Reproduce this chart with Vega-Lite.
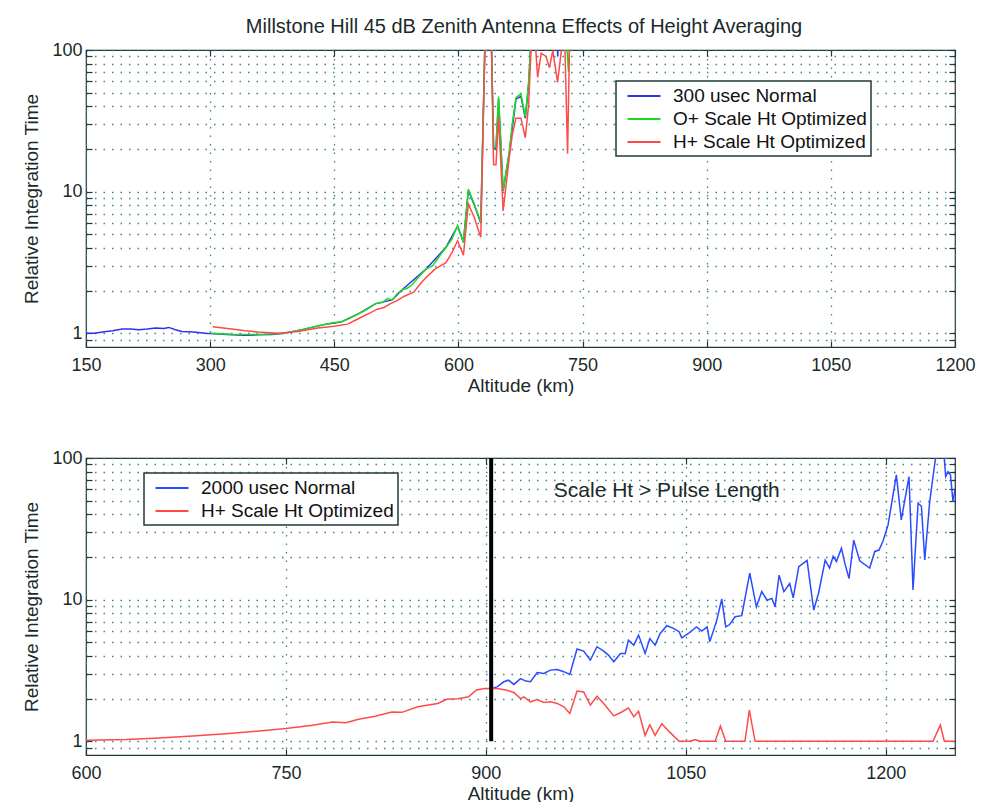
{
  "$schema": "https://vega.github.io/schema/vega-lite/v6.json",
  "background": "white",
  "padding": {"left": 22, "top": 17, "right": 10, "bottom": 0},
  "title": {"text": "Millstone Hill 45 dB Zenith Antenna  Effects of Height Averaging", "fontSize": 20, "fontWeight": "normal", "color": "#1a2a2a", "offset": 3, "anchor": "middle", "dx": 25},
  "config": {
    "font": "Liberation Sans",
    "view": {"stroke": "#203838", "strokeWidth": 1.2},
    "axis": {"labelFontSize": 18, "labelColor": "#1a2a2a", "titleFontSize": 19, "titleFontWeight": "normal", "titleColor": "#1a2a2a", "domain": false, "grid": true, "gridColor": "#3f8585", "gridDash": [1.5, 7], "gridWidth": 1.3, "tickColor": "#203838", "tickSize": -6, "tickWidth": 1.2, "labelPadding": 10},
    "axisX": {"labelPadding": 15, "titlePadding": 2, "format": "d", "labelFlush": false},
    "axisY": {"labelFlush": false},
    "legend": {"title": null, "orient": "none", "fillColor": "white", "strokeColor": "#1f3a3a", "strokeWidth": 1.5, "padding": 4, "labelFontSize": 19, "labelColor": "#111", "labelLimit": 400, "symbolType": "M-1.65,0H1.65", "symbolSize": 400, "symbolStrokeWidth": 2, "rowPadding": 2, "labelOffset": 18, "symbolOffset": 13}
  },
  "datasets": {
    "top": [
      {"alt":150,"val":1.0,"series":"300 usec Normal"},
      {"alt":160,"val":1.0,"series":"300 usec Normal"},
      {"alt":170,"val":1.02,"series":"300 usec Normal"},
      {"alt":182,"val":1.04,"series":"300 usec Normal"},
      {"alt":194,"val":1.07,"series":"300 usec Normal"},
      {"alt":204,"val":1.07,"series":"300 usec Normal"},
      {"alt":214,"val":1.06,"series":"300 usec Normal"},
      {"alt":224,"val":1.07,"series":"300 usec Normal"},
      {"alt":234,"val":1.09,"series":"300 usec Normal"},
      {"alt":244,"val":1.08,"series":"300 usec Normal"},
      {"alt":250,"val":1.1,"series":"300 usec Normal"},
      {"alt":258,"val":1.06,"series":"300 usec Normal"},
      {"alt":266,"val":1.03,"series":"300 usec Normal"},
      {"alt":280,"val":1.02,"series":"300 usec Normal"},
      {"alt":294,"val":1.0,"series":"300 usec Normal"},
      {"alt":310,"val":0.99,"series":"300 usec Normal"},
      {"alt":326,"val":0.975,"series":"300 usec Normal"},
      {"alt":342,"val":0.97,"series":"300 usec Normal"},
      {"alt":358,"val":0.975,"series":"300 usec Normal"},
      {"alt":374,"val":0.98,"series":"300 usec Normal"},
      {"alt":390,"val":1.0,"series":"300 usec Normal"},
      {"alt":414,"val":1.07,"series":"300 usec Normal"},
      {"alt":440,"val":1.16,"series":"300 usec Normal"},
      {"alt":458,"val":1.2,"series":"300 usec Normal"},
      {"alt":480,"val":1.38,"series":"300 usec Normal"},
      {"alt":500,"val":1.62,"series":"300 usec Normal"},
      {"alt":520,"val":1.72,"series":"300 usec Normal"},
      {"alt":532,"val":2.03,"series":"300 usec Normal"},
      {"alt":561,"val":2.84,"series":"300 usec Normal"},
      {"alt":585,"val":4.05,"series":"300 usec Normal"},
      {"alt":599,"val":5.7,"series":"300 usec Normal"},
      {"alt":606,"val":4.4,"series":"300 usec Normal"},
      {"alt":612,"val":10.2,"series":"300 usec Normal"},
      {"alt":619,"val":8.1,"series":"300 usec Normal"},
      {"alt":627,"val":6.0,"series":"300 usec Normal"},
      {"alt":633,"val":200,"series":"300 usec Normal"},
      {"alt":639,"val":200,"series":"300 usec Normal"},
      {"alt":642.5,"val":20.2,"series":"300 usec Normal"},
      {"alt":645.4,"val":20.2,"series":"300 usec Normal"},
      {"alt":648.5,"val":45,"series":"300 usec Normal"},
      {"alt":654,"val":10.1,"series":"300 usec Normal"},
      {"alt":661.5,"val":19,"series":"300 usec Normal"},
      {"alt":669.5,"val":45,"series":"300 usec Normal"},
      {"alt":675.5,"val":47,"series":"300 usec Normal"},
      {"alt":680.8,"val":33,"series":"300 usec Normal"},
      {"alt":684.8,"val":57,"series":"300 usec Normal"},
      {"alt":690,"val":200,"series":"300 usec Normal"},
      {"alt":718,"val":200,"series":"300 usec Normal"},
      {"alt":720,"val":90,"series":"300 usec Normal"},
      {"alt":722,"val":200,"series":"300 usec Normal"},

      {"alt":301,"val":1.0,"series":"O+ Scale Ht Optimized"},
      {"alt":326,"val":0.985,"series":"O+ Scale Ht Optimized"},
      {"alt":358,"val":0.98,"series":"O+ Scale Ht Optimized"},
      {"alt":390,"val":1.0,"series":"O+ Scale Ht Optimized"},
      {"alt":414,"val":1.07,"series":"O+ Scale Ht Optimized"},
      {"alt":428,"val":1.12,"series":"O+ Scale Ht Optimized"},
      {"alt":440,"val":1.16,"series":"O+ Scale Ht Optimized"},
      {"alt":450,"val":1.19,"series":"O+ Scale Ht Optimized"},
      {"alt":458,"val":1.2,"series":"O+ Scale Ht Optimized"},
      {"alt":468,"val":1.27,"series":"O+ Scale Ht Optimized"},
      {"alt":480,"val":1.38,"series":"O+ Scale Ht Optimized"},
      {"alt":490,"val":1.48,"series":"O+ Scale Ht Optimized"},
      {"alt":500,"val":1.62,"series":"O+ Scale Ht Optimized"},
      {"alt":508,"val":1.65,"series":"O+ Scale Ht Optimized"},
      {"alt":514,"val":1.76,"series":"O+ Scale Ht Optimized"},
      {"alt":520,"val":1.72,"series":"O+ Scale Ht Optimized"},
      {"alt":526,"val":1.9,"series":"O+ Scale Ht Optimized"},
      {"alt":532,"val":2.03,"series":"O+ Scale Ht Optimized"},
      {"alt":538,"val":2.08,"series":"O+ Scale Ht Optimized"},
      {"alt":544,"val":2.2,"series":"O+ Scale Ht Optimized"},
      {"alt":552,"val":2.5,"series":"O+ Scale Ht Optimized"},
      {"alt":561,"val":2.84,"series":"O+ Scale Ht Optimized"},
      {"alt":569,"val":3.0,"series":"O+ Scale Ht Optimized"},
      {"alt":577,"val":3.5,"series":"O+ Scale Ht Optimized"},
      {"alt":585,"val":4.05,"series":"O+ Scale Ht Optimized"},
      {"alt":592,"val":4.6,"series":"O+ Scale Ht Optimized"},
      {"alt":599,"val":5.75,"series":"O+ Scale Ht Optimized"},
      {"alt":606,"val":4.4,"series":"O+ Scale Ht Optimized"},
      {"alt":612,"val":10.4,"series":"O+ Scale Ht Optimized"},
      {"alt":619,"val":8.2,"series":"O+ Scale Ht Optimized"},
      {"alt":627,"val":6.1,"series":"O+ Scale Ht Optimized"},
      {"alt":633,"val":200,"series":"O+ Scale Ht Optimized"},
      {"alt":639,"val":200,"series":"O+ Scale Ht Optimized"},
      {"alt":642.5,"val":20.5,"series":"O+ Scale Ht Optimized"},
      {"alt":645.4,"val":20.5,"series":"O+ Scale Ht Optimized"},
      {"alt":648.5,"val":47,"series":"O+ Scale Ht Optimized"},
      {"alt":654,"val":10.2,"series":"O+ Scale Ht Optimized"},
      {"alt":661.5,"val":19,"series":"O+ Scale Ht Optimized"},
      {"alt":665,"val":30,"series":"O+ Scale Ht Optimized"},
      {"alt":669.5,"val":46,"series":"O+ Scale Ht Optimized"},
      {"alt":675.5,"val":49,"series":"O+ Scale Ht Optimized"},
      {"alt":680.8,"val":34,"series":"O+ Scale Ht Optimized"},
      {"alt":684.8,"val":59,"series":"O+ Scale Ht Optimized"},
      {"alt":690,"val":200,"series":"O+ Scale Ht Optimized"},
      {"alt":728,"val":200,"series":"O+ Scale Ht Optimized"},
      {"alt":733,"val":70,"series":"O+ Scale Ht Optimized"},
      {"alt":736,"val":200,"series":"O+ Scale Ht Optimized"},

      {"alt":303,"val":1.11,"series":"H+ Scale Ht Optimized"},
      {"alt":326,"val":1.07,"series":"H+ Scale Ht Optimized"},
      {"alt":342,"val":1.04,"series":"H+ Scale Ht Optimized"},
      {"alt":358,"val":1.02,"series":"H+ Scale Ht Optimized"},
      {"alt":382,"val":1.0,"series":"H+ Scale Ht Optimized"},
      {"alt":406,"val":1.03,"series":"H+ Scale Ht Optimized"},
      {"alt":430,"val":1.09,"series":"H+ Scale Ht Optimized"},
      {"alt":450,"val":1.12,"series":"H+ Scale Ht Optimized"},
      {"alt":466,"val":1.16,"series":"H+ Scale Ht Optimized"},
      {"alt":476,"val":1.24,"series":"H+ Scale Ht Optimized"},
      {"alt":486,"val":1.33,"series":"H+ Scale Ht Optimized"},
      {"alt":494,"val":1.4,"series":"H+ Scale Ht Optimized"},
      {"alt":502,"val":1.48,"series":"H+ Scale Ht Optimized"},
      {"alt":510,"val":1.52,"series":"H+ Scale Ht Optimized"},
      {"alt":518,"val":1.62,"series":"H+ Scale Ht Optimized"},
      {"alt":526,"val":1.7,"series":"H+ Scale Ht Optimized"},
      {"alt":534,"val":1.82,"series":"H+ Scale Ht Optimized"},
      {"alt":546,"val":1.95,"series":"H+ Scale Ht Optimized"},
      {"alt":553,"val":2.2,"series":"H+ Scale Ht Optimized"},
      {"alt":560,"val":2.45,"series":"H+ Scale Ht Optimized"},
      {"alt":572,"val":2.85,"series":"H+ Scale Ht Optimized"},
      {"alt":585,"val":3.15,"series":"H+ Scale Ht Optimized"},
      {"alt":592,"val":3.7,"series":"H+ Scale Ht Optimized"},
      {"alt":599,"val":4.5,"series":"H+ Scale Ht Optimized"},
      {"alt":606,"val":3.55,"series":"H+ Scale Ht Optimized"},
      {"alt":612,"val":8.2,"series":"H+ Scale Ht Optimized"},
      {"alt":619,"val":6.6,"series":"H+ Scale Ht Optimized"},
      {"alt":627,"val":4.76,"series":"H+ Scale Ht Optimized"},
      {"alt":633,"val":200,"series":"H+ Scale Ht Optimized"},
      {"alt":639,"val":200,"series":"H+ Scale Ht Optimized"},
      {"alt":642.5,"val":15.5,"series":"H+ Scale Ht Optimized"},
      {"alt":645.4,"val":15.5,"series":"H+ Scale Ht Optimized"},
      {"alt":648.5,"val":34,"series":"H+ Scale Ht Optimized"},
      {"alt":654,"val":7.3,"series":"H+ Scale Ht Optimized"},
      {"alt":661.5,"val":17.5,"series":"H+ Scale Ht Optimized"},
      {"alt":665,"val":25,"series":"H+ Scale Ht Optimized"},
      {"alt":669.5,"val":33,"series":"H+ Scale Ht Optimized"},
      {"alt":675.5,"val":33,"series":"H+ Scale Ht Optimized"},
      {"alt":680.8,"val":24,"series":"H+ Scale Ht Optimized"},
      {"alt":684.8,"val":41,"series":"H+ Scale Ht Optimized"},
      {"alt":690,"val":200,"series":"H+ Scale Ht Optimized"},
      {"alt":695.7,"val":64,"series":"H+ Scale Ht Optimized"},
      {"alt":700,"val":95,"series":"H+ Scale Ht Optimized"},
      {"alt":705.7,"val":90,"series":"H+ Scale Ht Optimized"},
      {"alt":710,"val":75,"series":"H+ Scale Ht Optimized"},
      {"alt":714,"val":99,"series":"H+ Scale Ht Optimized"},
      {"alt":719.8,"val":59,"series":"H+ Scale Ht Optimized"},
      {"alt":724,"val":95,"series":"H+ Scale Ht Optimized"},
      {"alt":728,"val":150,"series":"H+ Scale Ht Optimized"},
      {"alt":731.9,"val":18.5,"series":"H+ Scale Ht Optimized"},
      {"alt":735,"val":200,"series":"H+ Scale Ht Optimized"}
    ],
    "bottom": [
      {"alt":904,"val":2.36,"series":"2000 usec Normal"},
      {"alt":908.5,"val":2.42,"series":"2000 usec Normal"},
      {"alt":913.5,"val":2.63,"series":"2000 usec Normal"},
      {"alt":917,"val":2.7,"series":"2000 usec Normal"},
      {"alt":921,"val":2.52,"series":"2000 usec Normal"},
      {"alt":926,"val":2.77,"series":"2000 usec Normal"},
      {"alt":930,"val":2.66,"series":"2000 usec Normal"},
      {"alt":933.5,"val":2.63,"series":"2000 usec Normal"},
      {"alt":938.5,"val":3.06,"series":"2000 usec Normal"},
      {"alt":943.5,"val":3.01,"series":"2000 usec Normal"},
      {"alt":948.5,"val":3.18,"series":"2000 usec Normal"},
      {"alt":953.5,"val":3.21,"series":"2000 usec Normal"},
      {"alt":958.5,"val":3.1,"series":"2000 usec Normal"},
      {"alt":963,"val":2.96,"series":"2000 usec Normal"},
      {"alt":968.4,"val":4.48,"series":"2000 usec Normal"},
      {"alt":973.4,"val":4.33,"series":"2000 usec Normal"},
      {"alt":978.4,"val":3.74,"series":"2000 usec Normal"},
      {"alt":983.4,"val":4.65,"series":"2000 usec Normal"},
      {"alt":988.4,"val":4.33,"series":"2000 usec Normal"},
      {"alt":992,"val":4.06,"series":"2000 usec Normal"},
      {"alt":996,"val":3.64,"series":"2000 usec Normal"},
      {"alt":1001,"val":4.17,"series":"2000 usec Normal"},
      {"alt":1004.6,"val":4.17,"series":"2000 usec Normal"},
      {"alt":1007,"val":5.18,"series":"2000 usec Normal"},
      {"alt":1011,"val":4.77,"series":"2000 usec Normal"},
      {"alt":1014.6,"val":5.62,"series":"2000 usec Normal"},
      {"alt":1019.5,"val":4.17,"series":"2000 usec Normal"},
      {"alt":1023,"val":5.32,"series":"2000 usec Normal"},
      {"alt":1027,"val":4.77,"series":"2000 usec Normal"},
      {"alt":1030.8,"val":5.77,"series":"2000 usec Normal"},
      {"alt":1035.8,"val":6.54,"series":"2000 usec Normal"},
      {"alt":1040.8,"val":6.27,"series":"2000 usec Normal"},
      {"alt":1045,"val":5.94,"series":"2000 usec Normal"},
      {"alt":1047,"val":5.38,"series":"2000 usec Normal"},
      {"alt":1052,"val":5.77,"series":"2000 usec Normal"},
      {"alt":1058,"val":6.42,"series":"2000 usec Normal"},
      {"alt":1062,"val":5.99,"series":"2000 usec Normal"},
      {"alt":1066,"val":6.42,"series":"2000 usec Normal"},
      {"alt":1068,"val":5.05,"series":"2000 usec Normal"},
      {"alt":1073,"val":6.99,"series":"2000 usec Normal"},
      {"alt":1077,"val":10.1,"series":"2000 usec Normal"},
      {"alt":1080,"val":6.42,"series":"2000 usec Normal"},
      {"alt":1083,"val":6.67,"series":"2000 usec Normal"},
      {"alt":1087,"val":7.57,"series":"2000 usec Normal"},
      {"alt":1092,"val":7.7,"series":"2000 usec Normal"},
      {"alt":1098,"val":15.4,"series":"2000 usec Normal"},
      {"alt":1103,"val":8.9,"series":"2000 usec Normal"},
      {"alt":1107,"val":11.4,"series":"2000 usec Normal"},
      {"alt":1111,"val":9.9,"series":"2000 usec Normal"},
      {"alt":1114.6,"val":10.2,"series":"2000 usec Normal"},
      {"alt":1117,"val":8.9,"series":"2000 usec Normal"},
      {"alt":1120,"val":14.9,"series":"2000 usec Normal"},
      {"alt":1123.6,"val":11.4,"series":"2000 usec Normal"},
      {"alt":1128,"val":13.0,"series":"2000 usec Normal"},
      {"alt":1130.6,"val":10.3,"series":"2000 usec Normal"},
      {"alt":1134.8,"val":17.1,"series":"2000 usec Normal"},
      {"alt":1141,"val":18.9,"series":"2000 usec Normal"},
      {"alt":1146,"val":8.44,"series":"2000 usec Normal"},
      {"alt":1149.6,"val":11.1,"series":"2000 usec Normal"},
      {"alt":1154.6,"val":19.0,"series":"2000 usec Normal"},
      {"alt":1157.9,"val":16.7,"series":"2000 usec Normal"},
      {"alt":1160.6,"val":20.2,"series":"2000 usec Normal"},
      {"alt":1163,"val":18.6,"series":"2000 usec Normal"},
      {"alt":1166.8,"val":23.1,"series":"2000 usec Normal"},
      {"alt":1169.3,"val":18.1,"series":"2000 usec Normal"},
      {"alt":1172.5,"val":14.1,"series":"2000 usec Normal"},
      {"alt":1176,"val":26.3,"series":"2000 usec Normal"},
      {"alt":1180.5,"val":18.8,"series":"2000 usec Normal"},
      {"alt":1188,"val":16.7,"series":"2000 usec Normal"},
      {"alt":1191.8,"val":21.9,"series":"2000 usec Normal"},
      {"alt":1195,"val":22.4,"series":"2000 usec Normal"},
      {"alt":1198,"val":25.9,"series":"2000 usec Normal"},
      {"alt":1201.8,"val":33.7,"series":"2000 usec Normal"},
      {"alt":1208,"val":76,"series":"2000 usec Normal"},
      {"alt":1211.7,"val":36.6,"series":"2000 usec Normal"},
      {"alt":1217.5,"val":73.8,"series":"2000 usec Normal"},
      {"alt":1220.5,"val":11.7,"series":"2000 usec Normal"},
      {"alt":1224.3,"val":48,"series":"2000 usec Normal"},
      {"alt":1226.8,"val":45.6,"series":"2000 usec Normal"},
      {"alt":1229.3,"val":19.1,"series":"2000 usec Normal"},
      {"alt":1233,"val":49,"series":"2000 usec Normal"},
      {"alt":1237.4,"val":100,"series":"2000 usec Normal"},
      {"alt":1240,"val":130,"series":"2000 usec Normal"},
      {"alt":1243,"val":130,"series":"2000 usec Normal"},
      {"alt":1245,"val":74,"series":"2000 usec Normal"},
      {"alt":1246.8,"val":80,"series":"2000 usec Normal"},
      {"alt":1248.6,"val":76,"series":"2000 usec Normal"},
      {"alt":1250.5,"val":49,"series":"2000 usec Normal"},
      {"alt":1252,"val":60,"series":"2000 usec Normal"},

      {"alt":600,"val":1.016,"series":"H+ Scale Ht Optimized"},
      {"alt":630,"val":1.03,"series":"H+ Scale Ht Optimized"},
      {"alt":655,"val":1.055,"series":"H+ Scale Ht Optimized"},
      {"alt":680,"val":1.09,"series":"H+ Scale Ht Optimized"},
      {"alt":705,"val":1.13,"series":"H+ Scale Ht Optimized"},
      {"alt":730,"val":1.18,"series":"H+ Scale Ht Optimized"},
      {"alt":750,"val":1.23,"series":"H+ Scale Ht Optimized"},
      {"alt":770,"val":1.3,"series":"H+ Scale Ht Optimized"},
      {"alt":785,"val":1.37,"series":"H+ Scale Ht Optimized"},
      {"alt":795,"val":1.35,"series":"H+ Scale Ht Optimized"},
      {"alt":804.5,"val":1.43,"series":"H+ Scale Ht Optimized"},
      {"alt":817,"val":1.5,"series":"H+ Scale Ht Optimized"},
      {"alt":829.5,"val":1.61,"series":"H+ Scale Ht Optimized"},
      {"alt":837,"val":1.6,"series":"H+ Scale Ht Optimized"},
      {"alt":849,"val":1.75,"series":"H+ Scale Ht Optimized"},
      {"alt":864,"val":1.85,"series":"H+ Scale Ht Optimized"},
      {"alt":870.6,"val":1.98,"series":"H+ Scale Ht Optimized"},
      {"alt":879,"val":2.0,"series":"H+ Scale Ht Optimized"},
      {"alt":887,"val":2.06,"series":"H+ Scale Ht Optimized"},
      {"alt":893,"val":2.3,"series":"H+ Scale Ht Optimized"},
      {"alt":899,"val":2.36,"series":"H+ Scale Ht Optimized"},
      {"alt":904,"val":2.36,"series":"H+ Scale Ht Optimized"},
      {"alt":908.5,"val":2.36,"series":"H+ Scale Ht Optimized"},
      {"alt":916,"val":2.29,"series":"H+ Scale Ht Optimized"},
      {"alt":921,"val":2.21,"series":"H+ Scale Ht Optimized"},
      {"alt":926,"val":2.0,"series":"H+ Scale Ht Optimized"},
      {"alt":928.5,"val":2.06,"series":"H+ Scale Ht Optimized"},
      {"alt":933.5,"val":1.9,"series":"H+ Scale Ht Optimized"},
      {"alt":938.5,"val":1.97,"series":"H+ Scale Ht Optimized"},
      {"alt":943.5,"val":1.88,"series":"H+ Scale Ht Optimized"},
      {"alt":948.5,"val":1.9,"series":"H+ Scale Ht Optimized"},
      {"alt":953.5,"val":1.85,"series":"H+ Scale Ht Optimized"},
      {"alt":958.5,"val":1.75,"series":"H+ Scale Ht Optimized"},
      {"alt":963,"val":1.57,"series":"H+ Scale Ht Optimized"},
      {"alt":968.4,"val":2.26,"series":"H+ Scale Ht Optimized"},
      {"alt":973.4,"val":2.23,"series":"H+ Scale Ht Optimized"},
      {"alt":978.4,"val":1.8,"series":"H+ Scale Ht Optimized"},
      {"alt":983.4,"val":2.08,"series":"H+ Scale Ht Optimized"},
      {"alt":988.4,"val":1.85,"series":"H+ Scale Ht Optimized"},
      {"alt":996,"val":1.51,"series":"H+ Scale Ht Optimized"},
      {"alt":1002,"val":1.61,"series":"H+ Scale Ht Optimized"},
      {"alt":1007,"val":1.72,"series":"H+ Scale Ht Optimized"},
      {"alt":1011,"val":1.49,"series":"H+ Scale Ht Optimized"},
      {"alt":1014.6,"val":1.63,"series":"H+ Scale Ht Optimized"},
      {"alt":1019.5,"val":1.1,"series":"H+ Scale Ht Optimized"},
      {"alt":1023,"val":1.31,"series":"H+ Scale Ht Optimized"},
      {"alt":1027,"val":1.1,"series":"H+ Scale Ht Optimized"},
      {"alt":1032,"val":1.33,"series":"H+ Scale Ht Optimized"},
      {"alt":1038,"val":1.16,"series":"H+ Scale Ht Optimized"},
      {"alt":1045,"val":1.0,"series":"H+ Scale Ht Optimized"},
      {"alt":1053,"val":1.0,"series":"H+ Scale Ht Optimized"},
      {"alt":1057,"val":1.03,"series":"H+ Scale Ht Optimized"},
      {"alt":1060.6,"val":1.0,"series":"H+ Scale Ht Optimized"},
      {"alt":1072,"val":1.0,"series":"H+ Scale Ht Optimized"},
      {"alt":1076,"val":1.28,"series":"H+ Scale Ht Optimized"},
      {"alt":1080,"val":1.0,"series":"H+ Scale Ht Optimized"},
      {"alt":1094.4,"val":1.0,"series":"H+ Scale Ht Optimized"},
      {"alt":1097.7,"val":1.66,"series":"H+ Scale Ht Optimized"},
      {"alt":1102,"val":1.0,"series":"H+ Scale Ht Optimized"},
      {"alt":1235.5,"val":1.0,"series":"H+ Scale Ht Optimized"},
      {"alt":1241,"val":1.3,"series":"H+ Scale Ht Optimized"},
      {"alt":1244,"val":1.0,"series":"H+ Scale Ht Optimized"},
      {"alt":1252,"val":1.0,"series":"H+ Scale Ht Optimized"}
    ]
  },
  "spacing": 52,
  "resolve": {"scale": {"color": "independent"}, "legend": {"color": "independent"}},
  "vconcat": [
    {
      "width": 869,
      "height": 297,
      "resolve": {"axis": {"x": "independent", "y": "independent"}},
      "layer": [
        {
          "data": {"name": "top"},
          "transform": [{"filter": "datum.series == '300 usec Normal'"}],
          "mark": {"type": "line", "strokeWidth": 1.5, "clip": true},
          "encoding": {
            "x": {"field": "alt", "type": "quantitative", "scale": {"domain": [150, 1200], "nice": false, "zero": false}, "axis": {"values": [150, 300, 450, 600, 750, 900, 1050, 1200], "title": "Altitude (km)"}},
            "y": {"field": "val", "type": "quantitative", "scale": {"type": "log", "domain": [0.8, 100], "nice": false}, "axis": {"values": [0.9, 1, 2, 3, 4, 5, 6, 7, 8, 9, 10, 20, 30, 40, 50, 60, 70, 80, 90, 100], "labelExpr": "datum.value == 1 ? '1' : datum.value == 10 ? '10' : datum.value == 100 ? '100' : ''", "title": "Relative Integration Time", "titlePadding": 10}},
            "color": {"field": "series", "type": "nominal", "scale": {"domain": ["300 usec Normal", "O+ Scale Ht Optimized", "H+ Scale Ht Optimized"], "range": ["#3030f0", "#18e018", "#ff4a4a"]}, "legend": {"legendX": 530, "legendY": 31}}
          }
        },
        {
          "data": {"name": "top"},
          "transform": [{"filter": "datum.series == 'O+ Scale Ht Optimized'"}],
          "mark": {"type": "line", "strokeWidth": 1.5, "clip": true},
          "encoding": {
            "x": {"field": "alt", "type": "quantitative", "axis": null},
            "y": {"field": "val", "type": "quantitative", "axis": null},
            "color": {"field": "series", "type": "nominal"}
          }
        },
        {
          "data": {"name": "top"},
          "transform": [{"filter": "datum.series == 'H+ Scale Ht Optimized'"}],
          "mark": {"type": "line", "strokeWidth": 1.5, "clip": true},
          "encoding": {
            "x": {"field": "alt", "type": "quantitative", "axis": {"orient": "top", "labels": false, "grid": false, "title": null, "values": [150, 300, 450, 600, 750, 900, 1050, 1200]}},
            "y": {"field": "val", "type": "quantitative", "axis": {"orient": "right", "labels": false, "grid": false, "title": null, "values": [0.9, 1, 2, 3, 4, 5, 6, 7, 8, 9, 10, 20, 30, 40, 50, 60, 70, 80, 90, 100]}},
            "color": {"field": "series", "type": "nominal"}
          }
        }
      ]
    },
    {
      "width": 869,
      "height": 297,
      "resolve": {"axis": {"x": "independent", "y": "independent"}},
      "layer": [
        {
          "data": {"name": "bottom"},
          "transform": [{"filter": "datum.series == '2000 usec Normal'"}],
          "mark": {"type": "line", "strokeWidth": 1.5, "clip": true},
          "encoding": {
            "x": {"field": "alt", "type": "quantitative", "scale": {"domain": [600, 1252], "nice": false, "zero": false}, "axis": {"values": [600, 750, 900, 1050, 1200], "title": "Altitude (km)"}},
            "y": {"field": "val", "type": "quantitative", "scale": {"type": "log", "domain": [0.8, 100], "nice": false}, "axis": {"values": [0.9, 1, 2, 3, 4, 5, 6, 7, 8, 9, 10, 20, 30, 40, 50, 60, 70, 80, 90, 100], "labelExpr": "datum.value == 1 ? '1' : datum.value == 10 ? '10' : datum.value == 100 ? '100' : ''", "title": "Relative Integration Time", "titlePadding": 10}},
            "color": {"field": "series", "type": "nominal", "scale": {"domain": ["2000 usec Normal", "H+ Scale Ht Optimized"], "range": ["#2a4cff", "#ff4a4a"]}, "legend": {"legendX": 58, "legendY": 15}}
          }
        },
        {
          "data": {"name": "bottom"},
          "transform": [{"filter": "datum.series == 'H+ Scale Ht Optimized'"}],
          "mark": {"type": "line", "strokeWidth": 1.5, "clip": true},
          "encoding": {
            "x": {"field": "alt", "type": "quantitative", "axis": {"orient": "top", "labels": false, "grid": false, "title": null, "values": [600, 750, 900, 1050, 1200]}},
            "y": {"field": "val", "type": "quantitative", "axis": {"orient": "right", "labels": false, "grid": false, "title": null, "values": [0.9, 1, 2, 3, 4, 5, 6, 7, 8, 9, 10, 20, 30, 40, 50, 60, 70, 80, 90, 100]}},
            "color": {"field": "series", "type": "nominal"}
          }
        },
        {
          "data": {"values": [{"alt": 904, "lo": 1, "hi": 100}]},
          "mark": {"type": "rule", "strokeWidth": 4, "color": "black"},
          "encoding": {
            "x": {"field": "alt", "type": "quantitative", "axis": null},
            "y": {"field": "lo", "type": "quantitative", "axis": null},
            "y2": {"field": "hi"}
          }
        },
        {
          "data": {"values": [{"alt": 951, "val": 58.9, "label": "Scale Ht > Pulse Length"}]},
          "mark": {"type": "text", "align": "left", "baseline": "middle", "fontSize": 21, "color": "#1a2a2a"},
          "encoding": {
            "x": {"field": "alt", "type": "quantitative", "axis": null},
            "y": {"field": "val", "type": "quantitative", "axis": null},
            "text": {"field": "label"}
          }
        }
      ]
    }
  ]
}
